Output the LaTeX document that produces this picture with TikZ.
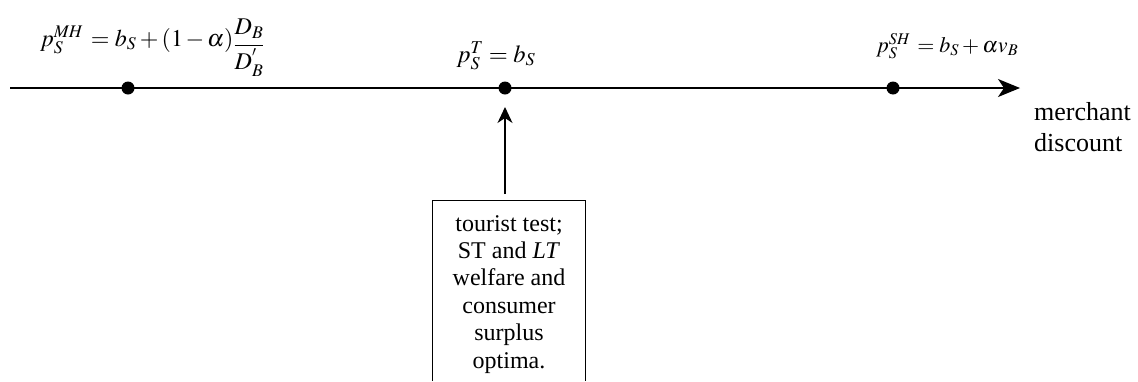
\documentclass[tikz,border=0pt]{standalone}
\usepackage{mathptmx}
\usepackage{fontspec}
\setmainfont{Liberation Serif}
\usetikzlibrary{arrows.meta}
\begin{document}
\begin{tikzpicture}[x=1pt,y=-1pt,
  dot/.style={circle,fill=black,inner sep=0pt,minimum size=13pt},
  boxtxt/.style={font=\fontsize{24}{27.4}\selectfont,align=center,inner sep=0pt},
  axis/.style={line width=1.3pt,-{Stealth[length=22pt,width=18pt,inset=6pt]}}]
\useasboundingbox (0,0) rectangle (1138,381);
\coordinate (a0) at (10,88);
\coordinate (a1) at (1020,88);
\draw[axis] (a0) -- (a1);
\node[dot] (d1) at (128,88) {};
\node[dot] (d2) at (505,88) {};
\node[dot] (d3) at (893,88) {};
\node[inner sep=0pt,font=\fontsize{24}{26}\selectfont,anchor=base west] (l1) at (40,46) {$p_S^{\mathit{MH}}\,=b_S+(1\,{-}\,\alpha)\raisebox{-5pt}{$\displaystyle\frac{D_B}{D_B^{'}}$}$};
\node[inner sep=0pt,font=\fontsize{24.5}{28}\selectfont,anchor=base] (l2) at (496,62) {$p_S^T=b_S$};
\node[inner sep=0pt,font=\fontsize{22}{24}\selectfont,anchor=base west] (l3) at (876,52) {$p_S^{\mathit{SH}}\,=b_S+\alpha v_B$};
\node[inner sep=0pt,font=\fontsize{26}{32}\selectfont,anchor=base west] (md) at (1034,120) {merchant};
\node[inner sep=0pt,font=\fontsize{26}{32}\selectfont,anchor=base west] (md2) at (1034,151) {discount};
\node[boxtxt,anchor=north] (bt) at (509,215) {tourist test;\\ST and \textit{LT}\\welfare and\\consumer\\surplus\\optima.};
\draw[line width=1pt] (432,381) -- (432,200.5) -- (585,200.5) -- (585,381);
\coordinate (btop) at (505,194);
\draw[line width=1.3pt,-{Stealth[length=16pt,width=15pt,inset=5pt]}] (btop) -- (505,107);
\end{tikzpicture}
\end{document}
